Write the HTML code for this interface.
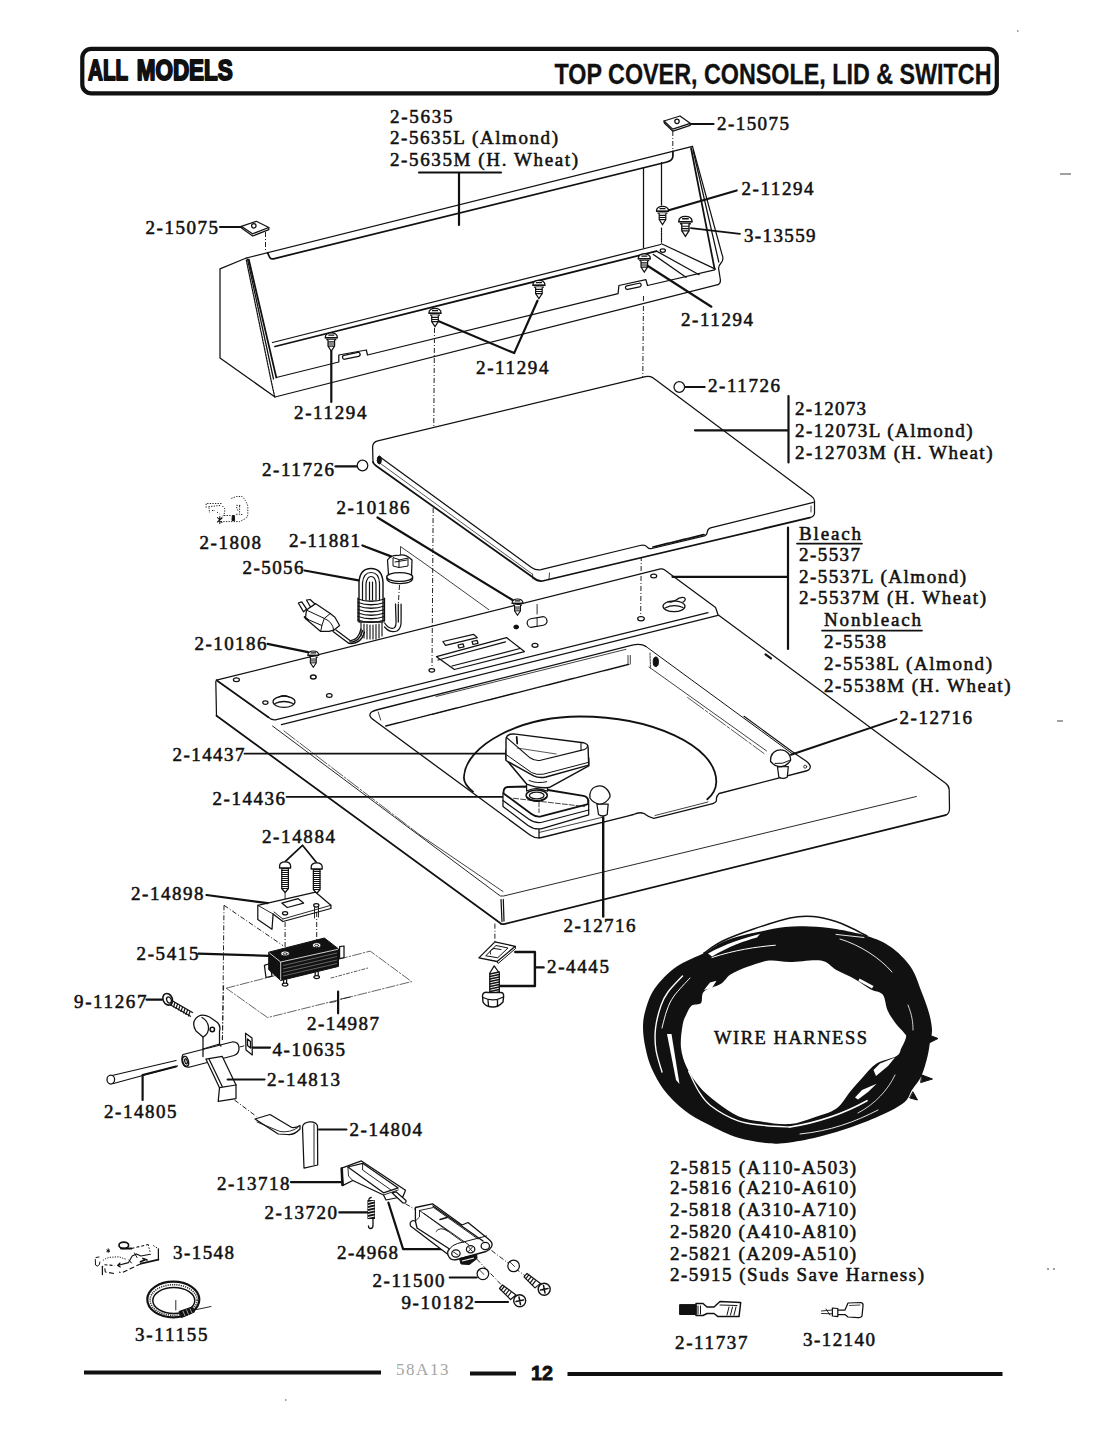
<!DOCTYPE html>
<html><head><meta charset="utf-8"><title>Top Cover, Console, Lid &amp; Switch</title>
<style>
html,body{margin:0;padding:0;background:#fff}
body{width:1100px;height:1440px;overflow:hidden}
svg{display:block}
.t{font-family:"Liberation Serif",serif;font-size:19px;fill:#111;stroke:#111;stroke-width:.55px}
.l{fill:none;stroke:#111;stroke-width:1.25;stroke-linecap:round;stroke-linejoin:round}
.k{fill:none;stroke:#111;stroke-width:1.75;stroke-linecap:round;stroke-linejoin:round}
.b{fill:none;stroke:#111;stroke-width:2.2;stroke-linecap:round;stroke-linejoin:round}
.d{fill:none;stroke:#222;stroke-width:1;stroke-dasharray:5 2 1 2}
.f{fill:#111;stroke:#111;stroke-width:1}
.w{fill:#fff;stroke:#111;stroke-width:1.25;stroke-linejoin:round}
</style></head><body>
<svg width="1100" height="1440" viewBox="0 0 1100 1440">
<rect width="1100" height="1440" fill="#fff"/>
<!-- 00_header.svg -->
<g>
<rect x="82.3" y="48.8" width="914.5" height="44.6" rx="9" ry="9" fill="none" stroke="#111" stroke-width="4.2"/>
<text y="80.2" style="font-family:'Liberation Sans',sans-serif;font-weight:bold;font-size:29px;fill:#111;stroke:#111;stroke-width:2px;stroke-linejoin:round"><tspan x="88.1" textLength="39.6" lengthAdjust="spacingAndGlyphs">ALL</tspan> <tspan x="136.7" textLength="96.1" lengthAdjust="spacingAndGlyphs">MODELS</tspan></text>
<text x="554.5" y="83.5" textLength="437" lengthAdjust="spacingAndGlyphs" style="font-family:'Liberation Sans',sans-serif;font-weight:bold;font-size:29px;fill:#111;stroke:#111;stroke-width:.3px">TOP COVER, CONSOLE, LID &amp; SWITCH</text>
<line x1="84" y1="1372.5" x2="381" y2="1372.5" stroke="#111" stroke-width="4"/>
<line x1="470" y1="1373.5" x2="516" y2="1373.5" stroke="#111" stroke-width="4"/>
<line x1="567.5" y1="1374" x2="1002.5" y2="1374" stroke="#111" stroke-width="4"/>
<text x="396" y="1375" textLength="52.5" lengthAdjust="spacing" style="font-family:'Liberation Serif',serif;font-size:17px;fill:#a4a4a4">58A13</text>
<text x="531" y="1380" textLength="22" lengthAdjust="spacingAndGlyphs" style="font-family:'Liberation Sans',sans-serif;font-weight:bold;font-size:20px;fill:#111;stroke:#111;stroke-width:.8px">12</text>
<path d="M1017,31 h1.500 M1060,174 h11 M1057,721 h6 M1047,1269 h2 M1053,1269 h2 M285,1400 h1.500" fill="none" stroke="#444" stroke-width="1.200"/>
</g>

<!-- 01_defs.svg -->

<!-- 10_console.svg -->
<g id="console">
<!-- back top edge -->
<path class="l" d="M246.3,258 L692.5,146.4"/>
<!-- left face -->
<path class="l" d="M246.3,258 L220,268.8 L220,358 L275,397"/>
<!-- bottom -->
<path class="l" d="M275,397 L717.9,284.6"/>
<!-- slanted left edge -->
<path class="k" d="M248.8,259.5 L276.3,377.5"/>
<path class="l" d="M246.3,260 L271,380 L274.5,396" style="stroke-dasharray:2 1"/>
<path class="l" d="M247.5,259 L273.5,379"/>
<!-- inner bottom w/ notches -->
<path class="l" d="M276.3,377.5 L338.8,362 L338.8,355 L366.3,350 L367.5,355 L618.1,293.6 L618.9,285.5 L645.9,279.7 L647.5,285.5 L714.6,269.9"/>
<rect x="-9" y="-2" width="18" height="4" rx="2" class="l" transform="translate(351.3,355.8) rotate(-12)"/>
<rect x="-8" y="-1.8" width="16" height="3.6" rx="1.8" class="l" transform="translate(633.3,286.3) rotate(-12)"/>
<!-- shelf -->
<path class="l" d="M272.5,342.5 L660.6,244.5"/>
<path class="k" d="M275,346.5 L656.5,251.1"/>
<!-- lip -->
<path class="k" d="M267.5,252.7 L269.5,257 Q270.5,259.5 273.5,258.8 L667,162 Q672.9,160.5 672.9,156 L672.9,151.3"/>
<!-- right inner verticals -->
<path class="l" d="M643.5,167.6 L643.5,247.8"/>
<path class="l" d="M661.5,162.7 L661.5,205" />
<path class="l" d="M661.5,228 L661.5,242.9" style="stroke-dasharray:1.5 1"/>
<!-- right panel -->
<path class="l" d="M692.5,146.4 L722,254.4 Q724.3,259.3 721,263 Q718,266.5 718.7,269.1 L720.4,280 Q720.6,283.6 717.9,284.6"/>
<path class="k" d="M691,148 L714.6,269"/>
<path class="l" d="M693,150 L718.8,262"/>
<path class="l" d="M661.5,243.7 L715.5,269.1"/>
<path class="l" d="M656.5,251.1 L699.1,274.8"/>
<path class="l" d="M653.3,254.4 L686,277.3"/>
<ellipse cx="662.8" cy="250.6" rx="2.6" ry="1.7" class="l"/>
<!-- screws -->
<g transform="translate(331.3,333.5)">
<path d="M-6,4.2 C-6.3,0.6 -3.2,-0.6 0,-0.6 C3.2,-0.6 6.3,0.6 6,4.2 Z" fill="#fff" stroke="#111" stroke-width="1.3"/>
<path d="M-6.4,4.3 H6.4 M-5,6.2 H5 M-3,1.6 H3" fill="none" stroke="#111" stroke-width="1.3"/>
<path d="M-3.3,6.2 V12.6 L0,17.6 L3.3,12.6 V6.2" fill="#fff" stroke="#111" stroke-width="1.2"/>
<path d="M-3.3,8.4 H3.3 M-3.3,10.5 H3.3 M-3.3,12.6 H3.3" fill="none" stroke="#111" stroke-width="1.1"/>
</g>
<g transform="translate(435,309)">
<path d="M-6,4.2 C-6.3,0.6 -3.2,-0.6 0,-0.6 C3.2,-0.6 6.3,0.6 6,4.2 Z" fill="#fff" stroke="#111" stroke-width="1.3"/>
<path d="M-6.4,4.3 H6.4 M-5,6.2 H5 M-3,1.6 H3" fill="none" stroke="#111" stroke-width="1.3"/>
<path d="M-3.3,6.2 V12.6 L0,17.6 L3.3,12.6 V6.2" fill="#fff" stroke="#111" stroke-width="1.2"/>
<path d="M-3.3,8.4 H3.3 M-3.3,10.5 H3.3 M-3.3,12.6 H3.3" fill="none" stroke="#111" stroke-width="1.1"/>
</g>
<g transform="translate(538.9,281)">
<path d="M-6,4.2 C-6.3,0.6 -3.2,-0.6 0,-0.6 C3.2,-0.6 6.3,0.6 6,4.2 Z" fill="#fff" stroke="#111" stroke-width="1.3"/>
<path d="M-6.4,4.3 H6.4 M-5,6.2 H5 M-3,1.6 H3" fill="none" stroke="#111" stroke-width="1.3"/>
<path d="M-3.3,6.2 V12.6 L0,17.6 L3.3,12.6 V6.2" fill="#fff" stroke="#111" stroke-width="1.2"/>
<path d="M-3.3,8.4 H3.3 M-3.3,10.5 H3.3 M-3.3,12.6 H3.3" fill="none" stroke="#111" stroke-width="1.1"/>
</g>
<g transform="translate(644.3,254.5)">
<path d="M-6,4.2 C-6.3,0.6 -3.2,-0.6 0,-0.6 C3.2,-0.6 6.3,0.6 6,4.2 Z" fill="#fff" stroke="#111" stroke-width="1.3"/>
<path d="M-6.4,4.3 H6.4 M-5,6.2 H5 M-3,1.6 H3" fill="none" stroke="#111" stroke-width="1.3"/>
<path d="M-3.3,6.2 V12.6 L0,17.6 L3.3,12.6 V6.2" fill="#fff" stroke="#111" stroke-width="1.2"/>
<path d="M-3.3,8.4 H3.3 M-3.3,10.5 H3.3 M-3.3,12.6 H3.3" fill="none" stroke="#111" stroke-width="1.1"/>
</g>
<g transform="translate(662.5,207)">
<path d="M-6,4.2 C-6.3,0.6 -3.2,-0.6 0,-0.6 C3.2,-0.6 6.3,0.6 6,4.2 Z" fill="#fff" stroke="#111" stroke-width="1.3"/>
<path d="M-6.4,4.3 H6.4 M-5,6.2 H5 M-3,1.6 H3" fill="none" stroke="#111" stroke-width="1.3"/>
<path d="M-3.3,6.2 V12.6 L0,17.6 L3.3,12.6 V6.2" fill="#fff" stroke="#111" stroke-width="1.2"/>
<path d="M-3.3,8.4 H3.3 M-3.3,10.5 H3.3 M-3.3,12.6 H3.3" fill="none" stroke="#111" stroke-width="1.1"/>
</g>
<g transform="translate(685.4,217) scale(1.1) translate(-685.4,-217) translate(685.4,217)">
<path d="M-6,4.2 C-6.3,0.6 -3.2,-0.6 0,-0.6 C3.2,-0.6 6.3,0.6 6,4.2 Z" fill="#fff" stroke="#111" stroke-width="1.3"/>
<path d="M-6.4,4.3 H6.4 M-5,6.2 H5 M-3,1.6 H3" fill="none" stroke="#111" stroke-width="1.3"/>
<path d="M-3.3,6.2 V12.6 L0,17.6 L3.3,12.6 V6.2" fill="#fff" stroke="#111" stroke-width="1.2"/>
<path d="M-3.3,8.4 H3.3 M-3.3,10.5 H3.3 M-3.3,12.6 H3.3" fill="none" stroke="#111" stroke-width="1.1"/>
</g>
<!-- leaders -->
<path class="b" d="M331.3,351 L331.3,402"/>
<path class="b" d="M438.8,321.3 L514.2,353.1 L537.5,300.7"/>
<path class="b" d="M647.5,265.8 L711.4,306.7"/>
<path class="b" d="M668.8,210.2 L736.7,190.5"/>
<path class="k" d="M690.9,228.2 L740,233.9"/>
<path class="b" d="M419,172.5 L501,172.5 M459,172.5 L459,225"/>
<!-- clips -->
<path class="w" d="M241.3,226.3 L256.3,221.3 L268.8,227.5 L252.5,233.8 Z"/>
<path class="l" d="M241.3,226.3 L241.8,228.3 L252.7,236 L268.8,229.7 L268.8,227.5"/>
<circle cx="253.8" cy="225.8" r="2.2" class="l"/>
<path class="b" d="M220,227 L241,227"/>
<path class="d" d="M265.5,232 L265.5,251"/>
<path class="w" d="M664,121 L680,116 L690.2,123.3 L672.7,129.1 Z"/>
<path class="l" d="M664,121 L664.3,123 L672.9,131.2 L690.2,125.4 L690.2,123.3"/>
<circle cx="677" cy="121.3" r="2.2" class="l"/>
<path class="b" d="M690.5,124 L713.5,124"/>
<path class="d" d="M672.8,131 L672.8,151"/>
<!-- center lines -->
</g>

<!-- 15_center.svg -->
<g id="center">
<path class="d" d="M434.5,328 L432,668"/>
<path class="d" d="M643.5,296 L640.7,616"/>
</g>

<!-- 20_lid.svg -->
<g id="lid">
<path d="M373,462 L372.6,447 Q372.8,442 377.8,440.9 L645.5,376.6 Q649.5,375.6 652.6,377.6 L811.5,496.2 Q814.5,498.4 814.5,501 L814.5,513 Q814.5,516.5 809.8,517.7 L542.5,581 Q537.5,581.5 533.8,578 L376,465.8 Z" fill="#fff" stroke="none"/>
<!-- top edge + right edge -->
<path class="l" d="M373,462 L372.6,447 Q372.8,442 377.8,440.9 L645.5,376.6 Q649.5,375.6 652.6,377.6 L811.5,496.2 Q814.5,498.4 814.5,501 L814.5,513 Q814.5,516.5 809.8,517.7"/>
<!-- front edge bottom (outer) and left-front outer -->
<path class="k" d="M373,462 Q373.5,464 376,465.8 L533.8,578 Q537.5,581.5 542.5,581 L809.8,517.7"/>
<!-- inner front-left line -->
<path class="l" d="M379,456.3 L531.5,567.4 Q536,570.6 541,569.7 L640,545.5 Q645,544.5 647,546.8 Q649,549.4 652,548.5 L704.5,535.8 Q707,535 707.3,532 Q707.6,529 710.5,527.9 L813.4,502.4"/>
<path class="l" d="M377,461 L531.5,573.5" style="stroke-width:.7"/>
<path class="k" d="M653,547 L704,534.6" style="stroke-dasharray:2 1"/>
<path class="l" d="M532.5,574 L533,579 M549.5,573 L549,579 M811,506 L811,512" style="stroke-width:.8"/>
<ellipse cx="379.3" cy="460" rx="2" ry="4" class="f"/>
<!-- circles 2-11726 -->
<circle cx="362.5" cy="465.5" r="5.3" class="w"/>
<path class="b" d="M335.5,466.4 L356.5,466.4"/>
<circle cx="679.3" cy="387" r="5.3" class="w"/>
<path class="b" d="M685.5,387 L704.6,387"/>
<!-- label brackets -->
<path class="b" d="M788.5,396 L788.5,462.5 M695,430.3 L788.5,430.3"/>
<path class="b" d="M788,527.5 L788,649 M672.5,576.8 L788,576.8"/>
<path class="k" d="M797,543.5 L862,543.5 M822,630.5 L922,630.5"/>
</g>

<!-- 30_topcover.svg -->
<g id="topcover">
<!-- outline -->
<path class="l" d="M216.5,680.2 L660.5,568.9 Q662.5,568.4 664.4,569.7 L715.6,607.5 L718,614.7 L945.6,783.3 Q949,786 949.2,789.5 L949.5,808.5 Q949.5,813.8 945.6,815.1"/>
<path class="k" d="M945.6,815.1 L505,923.8 Q501,924.8 499.8,922.7 L216.5,715.8"/>
<path class="l" d="M215.8,681.5 L216.5,715.8"/>
<path class="l" d="M501,899.5 L502,921.5 M503.3,899.5 L504,921"/>
<!-- upper front edge -->
<path class="l" d="M498.5,894.7 Q500,896.8 503.6,896 L916.4,796.5" style="stroke-width:.9"/>
<!-- left upper edge into step line a -->
<path class="k" d="M216.5,680.2 L268,717"/>
<path class="l" d="M268,717 Q272,720.6 276.4,719.6 L708,612.6"/>
<path class="k" d="M281.5,724.7 L718,615.3" style="stroke-width:1.3"/>
<path class="l" d="M272.5,726 L498.5,894.7" style="stroke-width:.9"/>
<path class="l" d="M284,731 L420,835" style="stroke-width:.7;stroke-dasharray:14 2 2 2"/>
<path class="l" d="M420,835 L503,891.5" style="stroke-width:.8"/>
<!-- well (lid opening) -->
<path class="k" d="M373.1,719.6 Q367.5,715.5 371.5,712 Q373.5,710.7 378.2,709.5 L631.3,645.3 Q641,643 646,646.5" style="stroke-width:1.300"/>
<path class="l" d="M646,646.5 L792,753.5" style="stroke-width:1"/>
<path class="l" d="M436,696.5 L626,649.3" style="stroke-width:.8"/>
<path class="k" d="M373.1,719.6 L530,835 Q535.5,839 541.8,837.5 L628.4,815.8 L633.5,814.5 Q639,811.8 643.6,813.3 Q649,817.5 653.8,818.4 L709.8,804.4 Q716.5,803 716.5,800 Q715.8,796.6 719.1,793.5 L806,771 Q810.500,770 810.300,766.200 Q810,764 806,761 L794.500,753.200" style="stroke-width:1.3"/>
<path class="l" d="M539.3,832.4 L603,817.1" style="stroke-width:.8"/>
<path class="l" d="M655,815.5 L708,802" style="stroke-width:.8"/>
<!-- inner hatched back wall bottom -->
<path class="k" d="M385.8,726 L628.7,664.4" style="stroke-dasharray:3 1;stroke-width:1.4"/>
<path class="l" d="M378.2,712 L380.7,720 M628,655.5 L628,664.4 M630.3,655.5 L630.3,664" style="stroke-width:.8"/>
<!-- right inner lines -->
<path class="l" d="M649,667 L766.5,750.9" style="stroke-width:.8"/>
<path class="l" d="M687.6,697.5 L764,753.5" style="stroke-width:.7;stroke-dasharray:20 2 3 2"/>
<path class="l" d="M744,716.300 L794.500,753.200" style="stroke-width:1.100"/>
<ellipse cx="655.8" cy="661.8" rx="2.6" ry="4.8" class="f"/>
<path class="l" d="M650,653 L650.5,668" style="stroke-width:.8;stroke-dasharray:2 1"/>
<circle cx="805.2" cy="766.7" r="1.5" class="l" style="stroke-width:.8"/>
<path class="b" d="M765.5,654.3 L771,658.4"/>
<!-- holes on rear deck -->
<ellipse cx="236.4" cy="679.7" rx="3" ry="1.9" class="l"/>
<ellipse cx="313.3" cy="677.1" rx="2.8" ry="2" class="l" style="stroke-width:1.5"/>
<ellipse cx="329.3" cy="695.5" rx="2.8" ry="1.9" class="l"/>
<ellipse cx="265.4" cy="702.6" rx="2.6" ry="1.8" class="l"/>
<ellipse cx="284" cy="701.8" rx="11" ry="5.6" class="l"/>
<path class="l" d="M275,703.5 Q284,699.5 293,703.5 M279,697 Q284,694.5 289,697"/>
<ellipse cx="431.8" cy="670.3" rx="2.8" ry="1.8" class="l"/>
<ellipse cx="516.2" cy="627" rx="2.4" ry="1.9" class="f"/>
<ellipse cx="535" cy="645.3" rx="3" ry="2" class="l"/>
<ellipse cx="641" cy="618.7" rx="3.3" ry="2.1" class="l"/>
<ellipse cx="653.7" cy="576" rx="3" ry="1.9" class="l"/>
<ellipse cx="674" cy="606.3" rx="11" ry="5.4" class="l"/>
<path class="l" d="M665,608 Q674,603.5 683,607.5 M668,601.5 Q672,603 676,600 Q680,596.5 684,597.5 Q687,599.5 683,602"/>
<!-- slot -->
<rect x="-10" y="-4.3" width="20" height="8.6" rx="4.3" class="l" transform="translate(537.1,622) rotate(-10)"/>
<path class="l" d="M537.1,604.5 L537.1,614 M537.1,617.5 L537.1,626.5" style="stroke-width:.9"/>
<!-- hinge bracket -->
<path class="l" d="M436.5,656.7 L506.5,637.6 L524.4,651.6 L454.4,669.5 Z"/>
<path class="l" d="M438,660 L505.5,641.8 M452,666 L520,648.5" />
<path class="l" d="M442.9,641.5 L473.5,634.3 L477.3,637.6 L445.5,645.3 Z"/>
<path class="l" d="M458,645 L463,643.8 L464,646.8 L459,648 Z M472,641.5 L477,640.3 L478,643.3 L473,644.5 Z" />
<!-- screws -->
<g transform="translate(313.3,651.5) scale(.9) translate(-313.3,-651.5) translate(313.3,651.5)">
<path d="M-6,4.2 C-6.3,0.6 -3.2,-0.6 0,-0.6 C3.2,-0.6 6.3,0.6 6,4.2 Z" fill="#fff" stroke="#111" stroke-width="1.3"/>
<path d="M-6.4,4.3 H6.4 M-5,6.2 H5 M-3,1.6 H3" fill="none" stroke="#111" stroke-width="1.3"/>
<path d="M-3.3,6.2 V12.6 L0,17.6 L3.3,12.6 V6.2" fill="#fff" stroke="#111" stroke-width="1.2"/>
<path d="M-3.3,8.4 H3.3 M-3.3,10.5 H3.3 M-3.3,12.6 H3.3" fill="none" stroke="#111" stroke-width="1.1"/>
</g>
<g transform="translate(517.5,599.5) scale(.9) translate(-517.5,-599.5) translate(517.5,599.5)">
<path d="M-6,4.2 C-6.3,0.6 -3.2,-0.6 0,-0.6 C3.2,-0.6 6.3,0.6 6,4.2 Z" fill="#fff" stroke="#111" stroke-width="1.3"/>
<path d="M-6.4,4.3 H6.4 M-5,6.2 H5 M-3,1.6 H3" fill="none" stroke="#111" stroke-width="1.3"/>
<path d="M-3.3,6.2 V12.6 L0,17.6 L3.3,12.6 V6.2" fill="#fff" stroke="#111" stroke-width="1.2"/>
<path d="M-3.3,8.4 H3.3 M-3.3,10.5 H3.3 M-3.3,12.6 H3.3" fill="none" stroke="#111" stroke-width="1.1"/>
</g>
<path class="b" d="M267.5,643.8 L308,652.2"/>
<path class="b" d="M377.5,517.5 L512.5,600"/>
<!-- centerlines -->
<!-- tub ring -->
<path class="k" d="M473,791.6 Q463,784 464,776.4 C466,745 520,716.5 580,716.5 C650,716.5 716.5,745 716.3,782 Q716,792 707.3,799.3" style="stroke-width:1.800"/>
<!-- leaders -->
<path class="k" d="M244.5,753.7 L506.7,753.7"/>
<path class="k" d="M286.5,796.8 L503,796.8"/>
<path class="l" d="M539,828 L539,838"/>
<!-- agitator base 2-14436 -->
<path class="w" d="M503,793 L503,806.500 L528,825.500 Q534,829.800 541,828.800 L588.700,814.800 L588.700,800 Z"/>
<path class="l" d="M503,800.600 L529,819.300 Q534.500,823.300 541,822.500 L588.700,810"/>
<path class="w" d="M503.600,793.500 L503.600,791.200 Q504,787.300 507.700,787 L526.600,786.500 L547.900,790 L583.400,795.900 Q588.100,797 588.100,800.600 L588.100,804.200 L541,816.400 Q536,817.300 531.500,814 Z" style="stroke-width:1.800"/>
<path class="l" d="M513.600,798.300 L584.500,806.500 M539,801.800 L539,812.500" style="stroke-width:.8;stroke-dasharray:5 2"/>
<ellipse cx="536.700" cy="795.300" rx="10.600" ry="5.400" class="w" style="stroke-width:1.500"/>
<path class="k" d="M527,797.500 Q531,801 536.700,801 Q543,801 546.500,797.300"/>
<ellipse cx="536.700" cy="795.500" rx="7.300" ry="3.400" class="l"/>
<!-- agitator cap 2-14437 -->
<path class="w" d="M526.600,784.100 L526.600,791 Q536,786 547.500,791.200 L547.500,785.300 Z"/>
<path class="w" d="M506,759.300 L526.600,784.100 Q537,788.500 549.100,787.600 L588.700,765.800 L588.700,758 L506,750 Z" style="stroke-width:1.500"/>
<path class="w" d="M506,760.500 L506,739.500 Q506,735.200 510.500,734.300 L513.600,733.900 L583.400,742.700 Q588.100,744 588.100,747.500 L588.700,765.200 L546,777 Q539,778.500 533.700,775.800 Z" style="stroke-width:1.400"/>
<path class="l" d="M506,754.500 L531.500,772.500 Q536.500,775.300 543.200,774.200 L588.700,762.300" style="stroke-width:1"/>
<path class="l" d="M507.100,738 L530,757.800 Q534.500,761 539.600,760.500 L581,750.400 M581,743.300 L581,750.400 Q587,749.500 587.500,746" style="stroke-width:1.100"/>
<path class="l" d="M517.200,748 L556.200,754" style="stroke-width:.7"/>
<path class="b" d="M516.700,737 L517.200,743.500" style="stroke-width:1.800"/>
<path class="l" d="M529,780.500 Q537.500,784 546.700,781.700" style="stroke-width:1"/>
<!-- bumpers 2-12716 -->
<path class="w" d="M596.900,804 L598.500,814.500 Q602.800,817.500 607.200,814.500 L608.200,804 Z"/>
<path class="w" d="M589.900,798 Q589,789 596,786.500 Q603,784.500 607.500,790 Q610.500,794 610,797 Q606,803.500 599.900,804.200 Q593.500,803.500 589.900,798 Z" style="stroke-width:1.300"/>
<path class="b" d="M603.200,817.500 L603.200,916.500" style="stroke-width:2.400"/>
<path class="w" d="M777.500,767 L778.800,777 Q783,779.800 787.300,777 L788.300,766.500 Z"/>
<path class="w" d="M770.600,761.500 Q770,753 777,750.300 Q784,748.500 788.500,753.500 Q791,757 790.500,760.500 Q787,766 781,766.700 Q774.500,766.500 770.600,761.500 Z" style="stroke-width:1.300"/>
<path class="l" d="M775,763.500 Q783,764.500 789.500,760.500" style="stroke-width:1"/>
<path class="k" d="M791,754.800 L896.400,719.100" style="stroke-width:2"/>
</g>

<!-- 40_cord.svg -->
<g id="cord">
<!-- 2-1808 faint clip -->
<g fill="none" stroke="#222" stroke-width="1" stroke-dasharray="1.300 1.300">
<path d="M206.100,507.600 L206.100,503.500 L221.700,503.500 M208.500,506.700 L220.500,505.400 M209,507.500 L209.500,513 M212,510.500 L215,510.500 M217,512 L219.500,514 M222.500,506 L225,509 L224.500,513 L223,516 L221,518.500"/>
<path d="M231.300,498.400 L236.400,496.500 L242.100,496.500 Q245.900,500.300 247.800,506 L247.800,515 Q247,518 245.300,518.700 L239.600,521.600 L220.500,521.600 M224,515.500 L231.500,515.500"/>
<path d="M236.400,505.400 L240.800,505.400 M239.600,506 L239.600,514.300 L235.800,514.300 M236.500,507 L238,511 M241,514.500 L243.500,514.500"/>
</g>
<path class="l" d="M217.500,517.500 L222,522.500 M217.500,522 L222,518 M219.800,516.500 L219.800,523.500" style="stroke-width:1.100"/>
<path class="f" d="M232.300,515.500 L234.300,515.500 L234.600,520.500 L232,520.500 Z"/>
<!-- 2-11881 strain relief -->
<path class="l" d="M400.5,565 L400.5,546.5 L430,567.3 L488.7,609.6" style="stroke-width:.8"/>
<path class="w" d="M387.5,560 L388.5,575 Q399,581 411.5,575 L412,560 Q405,553 398,555.5 Q391,555 387.5,560 Z"/>
<path class="l" d="M393,558 L393,566 L399,567.5 L399,560 Z M399,560 L408,558 L408,566 L399,567.5 M395,562 L407,560" style="stroke-width:1"/>
<ellipse cx="399.7" cy="577" rx="13" ry="4.3" class="w" style="stroke-width:1.3"/>
<path class="l" d="M386.7,578 Q387,583.5 399.7,583.5 Q412.5,583.5 412.7,578" />
<path class="d" d="M399.5,585 L398.4,603"/>
<path class="b" d="M362.4,545.5 L391,556.4"/>
<!-- 2-5056 cord: coil -->
<path class="w" d="M359,622 L359,582 Q360,568.5 371,568.5 Q382,568.5 383,582 L383,622 Z" style="stroke-width:1.4"/>
<path class="l" d="M362.5,600 L362.5,583 Q363.5,572.5 371,572.5 Q379,572.5 379.5,583 L379.5,600 M366,600 L366,584 Q367,576.5 371,576.5 Q375.5,576.5 376,584 L376,600 M369.5,600 L369.5,582 M372.5,600 L372.5,582" style="stroke-width:1.2"/>
<path class="k" d="M358,599 Q371,603.5 384.5,599 M358,602.5 Q371,607 384.5,602.5 M358,606 Q371,610.5 384.5,606 M358,609.5 Q371,614 384.5,609.5 M358,613 Q371,617.5 384.5,613 M358,616.5 Q371,621 384.5,616.5 M358,620 Q371,624.5 384.5,620" style="stroke-width:1.3"/>
<path class="l" d="M358,598 L358,621 M384.5,598 L384.5,621"/>
<path class="l" d="M361,623 L361,636 M364,624 L364,638 M367,624.5 L367,639 M370,625 L370,639 M373,625 L373,639 M376,624.5 L376,639 M379,624 L379,638 M382,623 L382,636" style="stroke-width:1.1"/>
<!-- right tail up -->
<path class="l" d="M384.600,623 Q389,629.500 394,628 Q396.500,626.500 396,620 L395.500,604 M384.600,627 Q390,633.500 397,631 Q401.500,628.500 401.100,620 L401.100,604 M398.300,604 L398.300,622"/>
<!-- left tail to plug -->
<path class="l" d="M361,629 Q358,641 350,640.5 L336,630 M364.500,632 Q361,644.500 349,643.500 L333,631.500 M362.700,630.500 Q359.500,642.500 349.500,642"/>
<path class="w" d="M306.500,610.100 L315.400,603.600 L330.200,613.600 L334.900,617.200 L339.600,625.500 L333.700,630.200 L329,631.400 L320.700,631.400 L305.400,618.400 Z"/>
<path class="l" d="M306.500,610.100 L324.300,618.400 L330.200,613.600 M324.300,618.400 L321.900,625.500 L320.700,631.400 M321.900,625.500 L305.400,618.400 M324.300,618.400 Q333,622 333.700,630.200" style="stroke-width:1"/>
<path class="w" d="M298.300,603 L301.800,601.800 L306.500,608.900 L303.600,611.900 Z"/>
<path class="w" d="M306.500,600 L310.100,599.500 L315,604 L310.500,607 Z"/>
<path class="k" d="M304.500,617 L308,620"/>
<path class="b" d="M304.5,570.5 L358.5,580.4"/>
</g>

<!-- 50_switch.svg -->
<g id="switch">
<!-- 2-14884 screws -->
<path class="k" d="M285.1,861.6 L302.5,845.3 L316.7,862.7"/>
<g id="lscrew">
<path d="M279.6,866 Q279.6,861.8 285.1,861.8 Q290.6,861.8 290.6,866 L290.6,868 L279.6,868 Z" class="w" style="stroke-width:1.3"/>
<path d="M281.8,868.5 L281.8,888.5 L285.1,892.5 L288.4,888.5 L288.4,868.5 Z" class="w"/>
<path class="l" d="M281.8,870.5 H288.4 M281.8,872.5 H288.4 M281.8,874.5 H288.4 M281.8,876.5 H288.4 M281.8,878.5 H288.4 M281.8,880.5 H288.4 M281.8,882.5 H288.4 M281.8,884.5 H288.4 M281.8,886.5 H288.4 M281.8,888.5 H288.4" style="stroke-width:1.2"/>
</g>
<g transform="translate(31.6,1)">
<path d="M279.6,866 Q279.6,861.8 285.1,861.8 Q290.6,861.8 290.6,866 L290.6,868 L279.6,868 Z" class="w" style="stroke-width:1.3"/>
<path d="M281.8,868.5 L281.8,888.5 L285.1,892.5 L288.4,888.5 L288.4,868.5 Z" class="w"/>
<path class="l" d="M281.8,870.5 H288.4 M281.8,872.5 H288.4 M281.8,874.5 H288.4 M281.8,876.5 H288.4 M281.8,878.5 H288.4 M281.8,880.5 H288.4 M281.8,882.5 H288.4 M281.8,884.5 H288.4 M281.8,886.5 H288.4 M281.8,888.5 H288.4" style="stroke-width:1.2"/>
</g>
<path class="l" d="M285.1,893 L285.1,913 M316.7,893 L316.7,905" style="stroke-width:.9"/>
<path class="d" d="M285.1,922 L285.1,950 M316.7,912 L316.7,942"/>
<!-- 2-14898 bracket -->
<path class="w" d="M257.8,905.3 L315.6,892.2 L330.9,905.3 L330.9,908.5 L282.9,921.5 L273.1,914 L272,929.3 L257.8,919.5 Z"/>
<path class="l" d="M257.8,905.3 L273.1,914 M282.9,919 L330.9,905.3 M282.9,919 L274,912" style="stroke-width:.9"/>
<path class="l" d="M281.8,903.1 L298.2,898.7 L303.6,903.1 L287.3,907.5 Z"/>
<ellipse cx="285.1" cy="913.2" rx="2.6" ry="1.7" class="l"/>
<ellipse cx="316.3" cy="905.3" rx="2.6" ry="1.7" class="l"/>
<path class="l" d="M314.5,907 L314.5,918 M318.5,907 L318.5,917" style="stroke-width:.9"/>
<path class="b" d="M206.5,895 L267.6,903.1"/>
<!-- assembly dash lines -->
<path class="d" d="M224,905.3 L222.5,1040 M224,905.3 L283,945.6"/>
<!-- 2-14987 sheet -->
<path class="l" d="M226.2,988.2 L370.2,951.1 L411.6,981.6 L267.6,1017.6 Z" style="stroke:#333;stroke-width:.75;stroke-dasharray:9 2 1.5 2"/>
<path class="l" d="M331,978 L368,968" style="stroke-width:.7;stroke-dasharray:3 2 1 2"/>
<path class="b" d="M338.1,991.5 L338.1,1013.3"/>
<path class="l" d="M330,1002.5 L336,1001.5 M341,999 L350,997" style="stroke-width:.8"/>
<!-- 2-5415 switch body -->
<path class="w" d="M264.4,965.3 L270,963.5 L272,976.2 L266,977.5 Z M339.6,946.7 L344,946 L344,957.6 L339.6,958.5 Z"/>
<path class="f" d="M268.7,952.2 L324.4,938 L338.5,948.9 L338.5,966.4 L280.7,980.5 L268.7,969.6 Z"/>
<path d="M269.5,953 L280.7,962 L338,949.3 M280.7,962 L280.7,980" fill="none" stroke="#fff" stroke-width=".8"/>
<path d="M283,965.5 L337,953 M283,969 L337,956.5 M283,972.5 L337,960 M283,976 L337,963.5" fill="none" stroke="#fff" stroke-width=".35"/>
<ellipse cx="285.1" cy="953.5" rx="4.2" ry="2.5" fill="#fff" stroke="#111" stroke-width="1"/>
<ellipse cx="316.7" cy="945.2" rx="4.2" ry="2.5" fill="#fff" stroke="#111" stroke-width="1"/>
<ellipse cx="285.1" cy="953.8" rx="2" ry="1.1" class="l" style="stroke-width:.8"/>
<ellipse cx="316.7" cy="945.5" rx="2" ry="1.1" class="l" style="stroke-width:.8"/>
<path class="l" d="M283.6,980 L283.6,984 M286.6,979.5 L286.6,984 M315.2,972.5 L315.2,976.5 M318.2,972 L318.2,976"/>
<ellipse cx="285.1" cy="984.5" rx="2.8" ry="1.5" class="w"/>
<ellipse cx="316.7" cy="977" rx="2.8" ry="1.5" class="w"/>
<path class="b" d="M198.5,953.6 L269,955.8"/>
</g>

<!-- 60_linkage.svg -->
<g id="linkage">
<!-- 9-11267 screw -->
<path class="b" d="M146.5,999.6 L162,999.6"/>
<path class="l" d="M171,1000 L192.5,1012.5 M169,1004 L190.5,1016.3" />
<path class="l" d="M172.5,1001 L171,1005.5 M175,1002.5 L173.500,1007 M177.500,1004 L176,1008.5 M180,1005.5 L178.500,1010 M182.500,1007 L181,1011.500 M185,1008.500 L183.500,1013 M187.500,1010 L186,1014.500 M190,1011.500 L188.500,1016" style="stroke-width:1.2"/>
<ellipse cx="167.7" cy="999.3" rx="4.6" ry="6" class="w" transform="rotate(-25 167.7 999.3)" style="stroke-width:1.6"/>
<ellipse cx="169" cy="1000" rx="2.2" ry="3.2" class="l" transform="rotate(-25 169 1000)" style="stroke-width:1.3"/>
<!-- dash-dot -->
<path class="d" d="M223.600,985.500 L222.300,1040"/>
<!-- lever 2-14813 -->
<path class="w" d="M196,1031 Q190.500,1022 198,1016.500 Q203,1013.500 209.500,1017 L217.500,1022.500 Q221,1026 219.500,1031 L219.500,1044 L203,1049 L203,1037 Z"/>
<path class="l" d="M203,1037 Q209,1034 208.500,1027 Q208,1021 202,1017.500" />
<circle cx="212.300" cy="1029.500" r="2.200" class="l" style="stroke-width:1.500"/>
<path class="w" d="M183,1054.500 L232,1042 Q238.500,1041.500 239,1047.500 Q239.500,1053.500 234,1055.500 L190,1067 Q184.500,1068 182.500,1063 Q181,1058 183,1054.500 Z"/>
<ellipse cx="185.600" cy="1061.300" rx="2.800" ry="5" class="l" transform="rotate(-15 185.600 1061.300)" style="stroke-width:1.400"/>
<ellipse cx="186" cy="1061.300" rx="1.200" ry="2.600" class="l" transform="rotate(-15 186 1061.300)"/>
<path class="l" d="M203,1049 L203,1056.500 M219.500,1044 L221,1046" />
<path class="w" d="M205.900,1059.100 L222.300,1056.400 L236,1085 L236,1098.600 L218.200,1101.400 L219.500,1087.700 Z"/>
<path class="l" d="M219.500,1087.700 L236,1085 M209,1059 L222.500,1087" />
<!-- rod 2-14805 -->
<path class="l" d="M112,1075.500 L176,1060.500 M113.500,1083.500 L177.500,1066"/>
<ellipse cx="110.800" cy="1079.600" rx="3.800" ry="4.400" class="w"/>
<path class="b" d="M142.600,1075 L142.600,1100 M142.600,1075 L176,1066.500"/>
<!-- 4-10635 -->
<path class="w" d="M245.500,1033.200 L252,1038 L252.300,1055 L246,1050 Z"/>
<path class="l" d="M247.500,1039 L250.500,1041.500 L250.500,1048 L247.500,1045.500 Z" style="stroke-width:1.300"/>
<path class="b" d="M252.500,1047.600 L270,1047.600"/>
<path class="d" d="M239.500,1047 L245.500,1045.500"/>
<!-- leader 2-14813 -->
<path class="b" d="M227.700,1079.500 L264.500,1079.500"/>
<!-- dash to 2-14804 -->
<path class="d" d="M234.500,1100 L256.400,1116.400"/>
<!-- 2-14804 bracket -->
<path class="w" d="M255,1119 L270,1114.500 L291.800,1127.500 Q296,1128 300,1125.500 L300,1129 Q294,1135.500 287,1134.500 L278.200,1134 Z"/>
<path class="l" d="M257,1122 L280,1131.500 Q290,1133 298,1127.500" style="stroke-width:.9"/>
<path class="w" d="M302.5,1127 Q303,1122.500 309.500,1121.800 Q316.500,1121.500 317.500,1126 L317.700,1165 L304,1168.200 Z"/>
<path class="l" d="M314,1124 L314,1164.500" style="stroke-width:.9"/>
<path class="b" d="M319,1129.500 L346.400,1129.500"/>
</g>

<!-- 70_hinge.svg -->
<g id="hinge">
<!-- 2-13718 -->
<path class="w" d="M341.700,1168.200 L361.400,1160.900 L405.500,1190.300 L403,1196.500 L386,1200 L383.500,1195 L352.800,1180.500 L343,1185.400 Z"/>
<path class="l" d="M347.900,1167 L362.600,1163.300 L398.200,1187.900 L383.500,1192.800 Z"/>
<path class="l" d="M362.600,1163.300 L362.600,1170 L391,1190 M347.900,1167 L348.500,1176 L352.800,1180.500" style="stroke-width:.9"/>
<path class="w" d="M392,1192.800 L396,1191.800 L406,1200.500 Q406.500,1203.500 403,1203 Z"/>
<path class="l" d="M383.500,1195 L398.200,1190" style="stroke-width:.9"/>
<path class="b" d="M341.700,1168.500 L342.500,1185" style="stroke-width:2.600"/>
<path class="b" d="M291,1182.200 L341.700,1182.200"/>
<!-- 2-13720 spring -->
<path class="b" d="M339.300,1212.400 L367.500,1212.400"/>
<path class="l" d="M371.200,1200 L371.200,1219" style="stroke-width:7.500;stroke:#111;stroke-linecap:butt"/>
<path d="M368,1202.500 L374.500,1201 M368,1205.500 L374.500,1204 M368,1208.500 L374.500,1207 M368,1211.500 L374.500,1210 M368,1214.500 L374.500,1213 M368,1217.500 L374.500,1216" fill="none" stroke="#fff" stroke-width="1.100"/>
<path class="l" d="M371.200,1197.500 Q368.500,1198 369,1200 M373,1219 L373,1225.500 Q373,1228.500 370.500,1228.500 Q368.500,1228.500 368.500,1226" style="stroke-width:1.300"/>
<!-- 2-4968 leader -->
<path class="b" d="M388.400,1202.600 L403.100,1249.200 L447.300,1249.200"/>
<!-- hinge body -->
<path class="d" d="M405.500,1203.800 L416,1210"/>
<path class="w" d="M410.500,1225.900 Q409,1222 413,1220.500 L426,1224 L456,1243 L450,1256 Z"/>
<path class="w" d="M415.400,1207.500 L432.500,1203.800 L462,1225 L468,1222.500 L489,1239.400 Q493.500,1243 491.500,1246.800 Q490,1250 486,1251.500 L457,1259.500 Q451.500,1261 449,1257 Q446,1252 449.500,1249 L417,1228 L415.400,1221 Z" style="stroke-width:1.300"/>
<path class="l" d="M419.500,1210.500 L433.500,1207.500 L478,1239 M419.500,1210.500 L463.500,1242.500 M424,1213.500 L469,1245 M415.400,1221 L419.500,1217 L419.500,1210.500 M436,1231.500 Q440,1226 447.500,1231" style="stroke-width:.9"/>
<path class="k" d="M433,1206 L483,1241 M440,1219.500 L447,1217.500" style="stroke-width:1.400"/>
<path class="l" d="M449.500,1249 Q452,1245 457.500,1243.500 L486.500,1236" style="stroke-width:1"/>
<ellipse cx="455.900" cy="1253.400" rx="4.200" ry="3.600" class="w"/>
<ellipse cx="470.600" cy="1249.200" rx="4.200" ry="3.600" class="w"/>
<ellipse cx="485.300" cy="1246" rx="4.200" ry="3.600" class="w"/>
<path class="l" d="M468.500,1247 L472.500,1251.500 M472.500,1247 L468.500,1251.500 M453.500,1252 L458,1255" style="stroke-width:.9"/>
<path class="f" d="M459.500,1258.500 L476.700,1254.500 L477,1258.500 L469.400,1264.500 L461,1264 Z"/>
<path d="M462,1261 L474,1258" fill="none" stroke="#fff" stroke-width="1.200"/>
<!-- washers / screws -->
<path class="d" d="M491.500,1250.500 L530.700,1280 M476.700,1259 L503.700,1287.300"/>
<circle cx="513.600" cy="1265.900" r="5.800" class="w"/>
<circle cx="482.900" cy="1273.800" r="5.800" class="w"/>
<path class="l" d="M510,1262 L514.500,1266.500 M479.500,1270 L484,1274.500" style="stroke-width:.8"/>
<g id="fscrew">
<path class="w" d="M502.500,1285 L499.500,1288.500 L510.500,1299.500 L516,1295 Z" style="stroke-width:1.200"/>
<path class="l" d="M504.300,1286.500 L501.300,1290.200 M506.500,1288.500 L503.500,1292.300 M508.700,1290.500 L505.700,1294.400 M510.900,1292.500 L507.900,1296.500" style="stroke-width:1.200"/>
<circle cx="519.700" cy="1300.800" r="6" class="w" style="stroke-width:1.400"/>
<path class="k" d="M516,1301.500 L523.500,1300 M519,1297 L520.500,1304.500" style="stroke-width:1.500"/>
</g>
<g transform="translate(24.5,-11.6)">
<path class="w" d="M502.500,1285 L499.500,1288.500 L510.500,1299.500 L516,1295 Z" style="stroke-width:1.200"/>
<path class="l" d="M504.300,1286.500 L501.300,1290.200 M506.500,1288.500 L503.500,1292.300 M508.700,1290.500 L505.700,1294.400 M510.900,1292.500 L507.900,1296.500" style="stroke-width:1.200"/>
<circle cx="519.700" cy="1300.800" r="6" class="w" style="stroke-width:1.400"/>
<path class="k" d="M516,1301.500 L523.500,1300 M519,1297 L520.500,1304.500" style="stroke-width:1.500"/>
</g>
<path class="b" d="M449.700,1277.500 L476.700,1277.500"/>
<path class="b" d="M475.500,1302 L508,1302"/>
</g>

<!-- 80_misc.svg -->
<g id="misc">
<!-- 2-4445 -->
<path class="d" d="M494.900,923.700 L494.900,944"/>
<path class="w" d="M478.900,957.900 L494.900,941.900 L515.300,946.300 L497.100,961.500 Z" style="stroke-width:1.300"/>
<path class="l" d="M497.100,961.500 L498,963.500 L515.600,948.500 L515.300,946.300 M486,955.500 L496,945.500 L508,948 L498,957.500 Z M490.500,954 Q489,950 494,948.500 L501,949.500" style="stroke-width:1"/>
<path class="b" d="M515.300,952 L534.900,952 L534.900,986 L500,986 M534.900,967.400 L543.600,967.400" style="stroke-width:2.400"/>
<path class="w" d="M494.200,965.900 L489.800,973 L489.800,993 L499.300,993 L499.300,973 Z"/>
<path class="k" d="M489.800,974 L499.300,972 M489.800,976.500 L499.300,974.500 M489.800,979 L499.300,977 M489.800,981.500 L499.300,979.500 M489.800,984 L499.300,982 M489.800,986.500 L499.300,984.500 M489.800,989 L499.300,987 M489.800,991.500 L499.300,989.500 M489.800,994 L499.300,992" style="stroke-width:1.500"/>
<path class="w" d="M482.500,996 Q482.500,991.500 488,992.500 L500,992.500 Q504,992 503.600,996.500 L503,1002 Q498,1007.500 492,1007 Q485,1006.500 483,1002 Z" style="stroke-width:1.400"/>
<path class="k" d="M483,997.500 Q493,1002.500 503.500,997 M488,1000 L488.500,1006 M497.500,1000 L497.500,1006.500" style="stroke-width:1.300"/>
<!-- 3-1548 clamp (faint) -->
<ellipse cx="123.800" cy="1245.300" rx="4.800" ry="3.200" class="l" style="stroke-width:1.700"/>
<path class="b" d="M121,1248.500 L131.500,1248.500" style="stroke-width:1.800"/>
<path class="l" d="M131.500,1248.500 L148.200,1244.500" style="stroke-dasharray:3 2;stroke-linecap:butt;stroke-width:1.1"/>
<path class="l" d="M148.200,1244.500 L150.400,1253.200 M153.300,1245.500 L158.400,1248.800" style="stroke-dasharray:1.500 1.500;stroke-width:1;stroke-linecap:butt"/>
<path class="l" d="M158.400,1248.800 L158.400,1259.700"/>
<path class="k" d="M158.400,1259.700 L140.900,1263.700"/>
<path class="l" d="M140.900,1263.700 L129.300,1269.200 L122,1272.800 L119,1272 M114,1273.500 L105.300,1272 L104.500,1266" style="stroke-dasharray:5 2.5;stroke-linecap:butt;stroke-width:1.1"/>
<path class="l" d="M102.400,1266.300 L102.400,1274.600"/>
<path class="l" d="M96,1257.500 L99,1257 M95.300,1259.500 L95.500,1265 Q97.500,1267.500 99.500,1264.500 L99.800,1262" style="stroke-width:1"/>
<path class="l" d="M103,1260.500 Q106,1258 110,1257.300 L119,1256.800 L126.400,1259.500" style="stroke-dasharray:1.200 1.300;stroke-width:1;stroke-linecap:butt"/>
<path class="l" d="M104.500,1264.800 L114.700,1265.500" style="stroke-dasharray:3 2;stroke-linecap:butt;stroke-width:1.1"/>
<path class="l" d="M117.600,1265.500 L128.500,1262.600 L132.200,1256 L136.500,1253.900 L140.900,1256 L150.400,1254.300 M117.600,1265.500 L120,1263 M117.600,1265.500 L120.300,1267" style="stroke-width:1.100"/>
<path class="l" d="M108.200,1248.800 L108.200,1252.500 M106.800,1250 L109.600,1251.500 M109.600,1250 L106.800,1251.500 M129,1260 L131.500,1263 M134.500,1253 L137,1257.500" style="stroke-width:1"/>
<path class="k" d="M140.500,1261.800 L144.500,1260 M143,1258.500 L147,1260"/>
<!-- 3-11155 ring clamp -->
<ellipse cx="173.300" cy="1299.500" rx="26" ry="17.800" fill="none" stroke="#111" stroke-width="2.200"/>
<ellipse cx="173.600" cy="1300" rx="23.500" ry="15.300" fill="none" stroke="#333" stroke-width="1.600" stroke-dasharray="1.200 1"/>
<ellipse cx="173.800" cy="1300.500" rx="21" ry="13" fill="none" stroke="#111" stroke-width="1.500"/>
<path class="f" d="M179,1311.500 L192,1307 L194.500,1312 L181.500,1317.500 Z"/>
<path d="M183,1311 L185,1316 M186.500,1309.500 L188.500,1314.500 M190,1308.500 L192,1313" fill="none" stroke="#fff" stroke-width=".6"/>
<path class="l" d="M192,1310.500 L211,1306.500 M175.800,1300.500 L175.800,1310" style="stroke-width:.9"/>
<!-- 2-11737 terminal -->
<path class="f" d="M679.600,1304.600 L696,1304.600 L696,1314.500 L679.600,1314.500 Z"/>
<path class="k" d="M696,1303.500 L703,1303.500 L707,1307 L714,1307 L720,1301.500 L740.700,1302.500 L739,1316.600 L718,1316.600 L714,1313.500 L707,1313.500 L703,1315.500 L696,1315.500 Z" style="stroke-width:1.500"/>
<path class="l" d="M720,1305 L737,1305.500 M729,1307 L727,1315 M732.500,1307 L730.500,1315 M736,1307 L734,1315 M698,1306 L698,1314 M700.500,1306 L700.500,1314" style="stroke-width:1"/>
<!-- 3-12140 terminal -->
<path class="l" d="M821.500,1311 L832.400,1310 M821.500,1313.500 L832.400,1313.800 M826,1309 L830,1315" style="stroke-width:.9"/>
<path class="l" d="M832.400,1308 L837.800,1308.500 L837.800,1316.600 L832.400,1316 Z M837.800,1310 L845,1310 L848,1303 L861,1302.500 Q863.500,1303 863,1306 L862,1316 Q861,1318 858,1317.700 L848,1317 L845,1314.500 L837.800,1314.500"/>
<path class="l" d="M849.500,1305.500 L860,1305" style="stroke-width:.8"/>
</g>

<!-- 90_harness.svg -->
<g id="harness">
<path fill="#111" fill-rule="evenodd" d="M758.0,932.0 C765.2,930.6 776.3,927.9 785.0,927.0 C793.7,926.1 801.5,926.2 810.0,926.5 C818.5,926.8 826.5,927.4 836.0,929.0 C845.5,930.6 857.9,933.0 867.0,936.0 C876.1,939.0 883.2,941.6 890.5,946.7 C897.8,951.8 905.5,959.3 910.6,966.8 C915.8,974.3 918.3,983.9 921.4,991.6 C924.5,999.3 927.2,1006.6 929.0,1013.0 C930.8,1019.4 931.8,1025.2 932.0,1030.0 C932.2,1034.8 930.7,1037.7 930.0,1042.0 C929.3,1046.3 929.0,1050.3 927.6,1056.0 C926.2,1061.7 924.0,1070.3 921.4,1076.0 C918.8,1081.7 914.8,1085.6 912.0,1090.0 C909.2,1094.4 909.3,1098.2 904.4,1102.3 C899.5,1106.4 891.5,1110.5 882.7,1114.6 C873.9,1118.7 862.1,1123.4 851.8,1127.0 C841.5,1130.6 831.3,1133.7 821.0,1136.3 C810.7,1138.9 798.7,1141.3 790.0,1142.5 C781.3,1143.7 777.6,1144.0 769.0,1143.2 C760.4,1142.4 748.5,1141.0 738.2,1137.8 C727.9,1134.6 716.3,1128.6 707.3,1124.0 C698.3,1119.4 691.2,1115.7 684.0,1110.0 C676.8,1104.3 669.4,1097.0 664.0,1090.0 C658.6,1083.0 654.7,1075.3 651.6,1068.3 C648.5,1061.3 646.9,1054.7 645.5,1048.0 C644.1,1041.3 643.0,1034.3 643.0,1028.0 C643.0,1021.7 643.5,1016.6 645.5,1010.0 C647.5,1003.4 649.6,995.7 654.7,988.5 C659.9,981.3 668.1,972.7 676.4,966.8 C684.6,960.9 696.5,957.1 704.2,953.0 C711.9,948.9 716.4,944.9 722.7,942.0 C729.0,939.1 736.1,937.2 742.0,935.5 C747.9,933.8 750.8,933.4 758.0,932.0 Z M790.0,962.0 C798.7,962.0 813.3,959.3 821.0,960.6 C828.7,961.9 830.7,966.9 836.4,970.0 C842.1,973.1 849.3,976.0 855.0,979.2 C860.7,982.4 865.8,986.6 870.4,989.2 C875.0,991.8 879.9,991.1 882.7,994.6 C885.5,998.1 885.4,1005.4 887.4,1010.0 C889.4,1014.6 892.2,1018.6 895.0,1022.5 C897.8,1026.4 902.6,1030.8 904.4,1033.3 C906.2,1035.8 906.5,1034.9 906.0,1037.4 C905.5,1039.9 902.9,1045.1 901.3,1048.2 C899.7,1051.3 900.7,1053.4 896.6,1056.0 C892.5,1058.6 882.3,1060.0 876.6,1063.6 C870.9,1067.2 867.0,1072.8 862.6,1077.5 C858.2,1082.2 854.7,1086.3 850.3,1091.5 C845.9,1096.7 842.6,1104.1 836.4,1108.5 C830.2,1112.9 820.9,1115.1 813.2,1117.7 C805.5,1120.3 798.6,1123.3 790.0,1124.0 C781.4,1124.7 770.0,1122.9 761.4,1121.6 C752.8,1120.3 745.7,1119.4 738.2,1116.2 C730.7,1113.0 723.1,1107.2 716.6,1102.3 C710.1,1097.4 704.4,1092.5 699.5,1086.8 C694.6,1081.1 690.3,1074.8 687.2,1068.3 C684.1,1061.8 681.8,1055.2 681.0,1048.0 C680.2,1040.8 681.6,1030.8 682.6,1025.0 C683.6,1019.2 685.5,1016.2 687.0,1013.0 C688.5,1009.8 689.5,1007.2 691.8,1005.5 C694.1,1003.8 699.0,1005.3 701.0,1003.0 C703.0,1000.7 700.7,994.7 704.0,991.5 C707.3,988.3 716.6,986.6 721.0,983.8 C725.4,981.0 726.1,977.3 730.5,974.5 C734.9,971.7 741.1,969.1 747.5,966.8 C753.9,964.5 761.9,961.4 769.0,960.6 C776.1,959.8 781.3,962.0 790.0,962.0 Z"/>
<g fill="none" stroke="#111" stroke-width="1.5" stroke-linecap="round">
<path d="M704.0,953.0 C707.1,951.0 714.4,945.0 722.7,941.0 C731.0,937.0 742.4,932.8 753.6,929.0 C764.8,925.2 780.1,920.1 790.0,918.0 C799.9,915.9 805.3,916.0 813.0,916.6 C820.7,917.2 829.5,919.6 836.0,921.5 C842.5,923.4 846.6,925.8 851.8,928.2 C857.0,930.6 864.5,934.7 867.0,936.0"/>
<path d="M929,1035 L938,1038.5 L930,1042.5 Z M922,1075 L932.5,1079 L921,1082.5 Z M913,1092 L917.5,1100 L910,1098 Z" fill="#111" stroke-width="1"/>
</g>
<g fill="#fff" stroke="none">
<path d="M708,953.500 C725,944 745,937.500 760,934 L757,937.500 C745,940.500 728,947 712,956.500 Z"/>
<path d="M667,1034 L671.500,1034 L679.500,1084 L676,1080 Z"/>
<path d="M873.500,1070 L880,1063.500 L895,1057.500 L888,1066 L876,1076 Z"/>
<path d="M855,1097.600 L862,1090 L876.600,1083.700 L868,1092 L858,1099.500 Z"/>
<path d="M704,990 L710,982.500 L716.500,980.700 L712,988 Z"/>
<path d="M859.500,978.500 L873.500,986 L872,988.500 L858.500,981 Z"/>
</g>
<g fill="none" stroke="#fff" stroke-linecap="round">
<path d="M790,1127 C820,1122 845,1113 867,1100.700" stroke-width="1.600"/>
<path d="M688.7,1071.4 C690.2,1074.5 694.4,1084.3 698.0,1090.0 C701.6,1095.7 703.7,1100.3 710.4,1105.4 C717.1,1110.5 729.1,1117.5 738.2,1120.8 C747.3,1124.1 756.4,1124.5 765.0,1125.5 C773.6,1126.5 785.8,1126.8 790.0,1127.0" stroke-width="1.300"/>
<path d="M712,957.500 C735,950 755,947 775.300,945.200" stroke-width="1"/>
<path d="M682.5,976.0 C680.1,978.7 671.6,987.1 668.0,992.0 C664.4,996.9 663.1,999.4 661.0,1005.5 C658.9,1011.6 656.3,1021.2 655.5,1028.6 C654.7,1036.0 654.9,1042.8 656.0,1050.0 C657.1,1057.2 661.0,1068.3 662.0,1072.0" stroke-width="1.400"/>
<path d="M690.0,978.0 C687.3,981.0 677.8,990.7 674.0,996.0 C670.2,1001.3 669.0,1004.7 667.0,1010.0 C665.0,1015.3 662.8,1025.0 662.0,1028.0" stroke-width="1"/>
<path d="M836,934.400 L864,937.500 M840,939 C860,945 880,958 892,972" stroke-width=".9"/>
<path d="M908,1005 C912,1015 913,1022 913,1030 M895,1075 C888,1090 875,1104 858,1113" stroke-width=".8"/>
<path d="M800,1134 C830,1131 855,1122 878,1110" stroke-width=".9"/>
</g>
<text x="714" y="1043.500" textLength="153" lengthAdjust="spacing" style="font-family:'Liberation Serif',serif;font-size:18.5px;fill:#111;stroke:#111;stroke-width:.5px">WIRE HARNESS</text>
</g>

<g class="t">
<text x="390" y="123" textLength="62.5" lengthAdjust="spacing">2-5635</text>
<text x="390" y="144" textLength="168" lengthAdjust="spacing">2-5635L (Almond)</text>
<text x="390" y="165.5" textLength="188" lengthAdjust="spacing">2-5635M (H. Wheat)</text>
<text x="145.5" y="234" textLength="72.5" lengthAdjust="spacing">2-15075</text>
<text x="717" y="130" textLength="72" lengthAdjust="spacing">2-15075</text>
<text x="741.5" y="195" textLength="72" lengthAdjust="spacing">2-11294</text>
<text x="744" y="241.5" textLength="71.5" lengthAdjust="spacing">3-13559</text>
<text x="681" y="325.5" textLength="72" lengthAdjust="spacing">2-11294</text>
<text x="476" y="373.5" textLength="72.5" lengthAdjust="spacing">2-11294</text>
<text x="294" y="418.5" textLength="72.5" lengthAdjust="spacing">2-11294</text>
<text x="262" y="475.5" textLength="72" lengthAdjust="spacing">2-11726</text>
<text x="336.5" y="513.5" textLength="73" lengthAdjust="spacing">2-10186</text>
<text x="199.5" y="548.5" textLength="61.5" lengthAdjust="spacing">2-1808</text>
<text x="289" y="546.5" textLength="71" lengthAdjust="spacing">2-11881</text>
<text x="242.5" y="574" textLength="61" lengthAdjust="spacing">2-5056</text>
<text x="194.5" y="650" textLength="72" lengthAdjust="spacing">2-10186</text>
<text x="708" y="392" textLength="72" lengthAdjust="spacing">2-11726</text>
<text x="795" y="415" textLength="71" lengthAdjust="spacing">2-12073</text>
<text x="795" y="437" textLength="177.5" lengthAdjust="spacing">2-12073L (Almond)</text>
<text x="795" y="458.5" textLength="197.5" lengthAdjust="spacing">2-12703M (H. Wheat)</text>
<text x="799" y="539.5" textLength="62" lengthAdjust="spacing">Bleach</text>
<text x="799" y="561" textLength="61" lengthAdjust="spacing">2-5537</text>
<text x="799" y="582.5" textLength="167" lengthAdjust="spacing">2-5537L (Almond)</text>
<text x="799" y="604" textLength="187" lengthAdjust="spacing">2-5537M (H. Wheat)</text>
<text x="824" y="626" textLength="97" lengthAdjust="spacing">Nonbleach</text>
<text x="824" y="648" textLength="62" lengthAdjust="spacing">2-5538</text>
<text x="824" y="670" textLength="168" lengthAdjust="spacing">2-5538L (Almond)</text>
<text x="824" y="692" textLength="186.5" lengthAdjust="spacing">2-5538M (H. Wheat)</text>
<text x="899.5" y="724" textLength="72.5" lengthAdjust="spacing">2-12716</text>
<text x="172.5" y="761" textLength="72" lengthAdjust="spacing">2-14437</text>
<text x="212.5" y="805" textLength="72.5" lengthAdjust="spacing">2-14436</text>
<text x="262" y="842.5" textLength="73" lengthAdjust="spacing">2-14884</text>
<text x="131" y="900" textLength="72.5" lengthAdjust="spacing">2-14898</text>
<text x="136.5" y="960" textLength="62" lengthAdjust="spacing">2-5415</text>
<text x="74" y="1007.5" textLength="72.5" lengthAdjust="spacing">9-11267</text>
<text x="307" y="1030" textLength="72" lengthAdjust="spacing">2-14987</text>
<text x="272.5" y="1056" textLength="72.5" lengthAdjust="spacing">4-10635</text>
<text x="267" y="1086" textLength="73" lengthAdjust="spacing">2-14813</text>
<text x="563.5" y="931.5" textLength="72" lengthAdjust="spacing">2-12716</text>
<text x="547" y="972.5" textLength="62" lengthAdjust="spacing">2-4445</text>
<text x="104" y="1118" textLength="72.5" lengthAdjust="spacing">2-14805</text>
<text x="349.5" y="1136" textLength="72.5" lengthAdjust="spacing">2-14804</text>
<text x="217" y="1189.5" textLength="72.5" lengthAdjust="spacing">2-13718</text>
<text x="264.5" y="1218.5" textLength="72.5" lengthAdjust="spacing">2-13720</text>
<text x="173" y="1259" textLength="61" lengthAdjust="spacing">3-1548</text>
<text x="337" y="1259" textLength="61" lengthAdjust="spacing">2-4968</text>
<text x="372.5" y="1286.5" textLength="72" lengthAdjust="spacing">2-11500</text>
<text x="401.5" y="1308.5" textLength="72.5" lengthAdjust="spacing">9-10182</text>
<text x="135" y="1340.5" textLength="72.5" lengthAdjust="spacing">3-11155</text>
<text x="670" y="1173.5" textLength="186" lengthAdjust="spacing">2-5815 (A110-A503)</text>
<text x="670" y="1194" textLength="186" lengthAdjust="spacing">2-5816 (A210-A610)</text>
<text x="670" y="1216" textLength="186" lengthAdjust="spacing">2-5818 (A310-A710)</text>
<text x="670" y="1237.5" textLength="186" lengthAdjust="spacing">2-5820 (A410-A810)</text>
<text x="670" y="1260" textLength="186" lengthAdjust="spacing">2-5821 (A209-A510)</text>
<text x="670" y="1281" textLength="254" lengthAdjust="spacing">2-5915 (Suds Save Harness)</text>
<text x="675" y="1349" textLength="72.5" lengthAdjust="spacing">2-11737</text>
<text x="803" y="1346" textLength="72" lengthAdjust="spacing">3-12140</text>
</g>
</svg>
</body></html>
